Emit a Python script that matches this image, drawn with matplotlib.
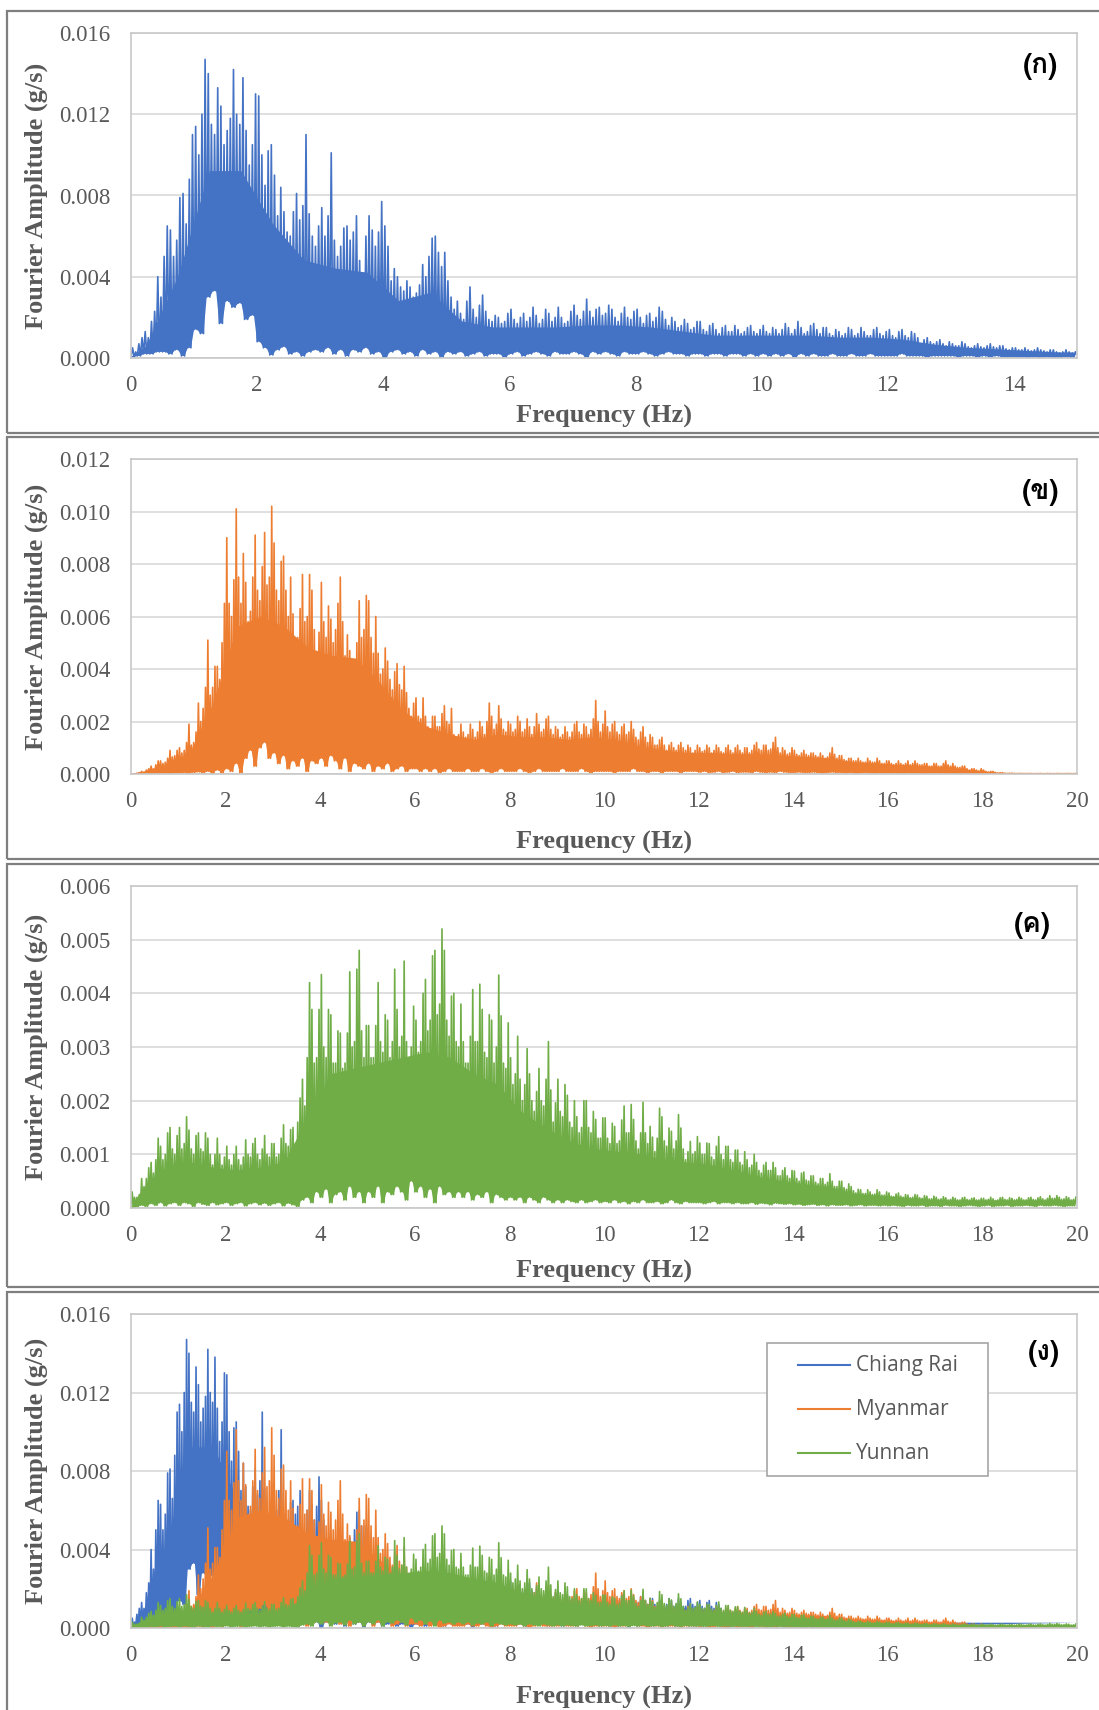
"""
Fourier amplitude spectra of the three records (Chiang Rai, Myanmar, Yunnan).
Output: out.png
"""
import numpy as np
import matplotlib
matplotlib.use("Agg")
import matplotlib.pyplot as plt
from matplotlib.patches import Rectangle
from matplotlib.lines import Line2D
from matplotlib.ticker import FormatStrFormatter
from matplotlib import font_manager
from matplotlib.ft2font import FT2Font

W, H = 1099, 1710

# amplitudes are typed in units of 1e-4 g/s
UNIT = 1e-4
FINE_DF = 0.1      # Hz per peak / second / dip value
COARSE_DF = 0.5    # Hz per body value

SERIES = ["Chiang Rai", "Myanmar", "Yunnan"]
COLORS = ["#4472C4", "#ED7D31", "#70AD47"]
PANEL_TAGS = ["(ก)", "(ข)", "(ค)", "(ง)"]

# highest spike in every 0.1 Hz bin
chiang_rai_peak = [
    5, 10, 13, 23, 40, 65, 63, 79, 81, 110,
    114, 147, 140, 133, 124, 118, 142, 138, 112, 130,
    129, 102, 105, 84, 72, 72, 81, 110, 71, 65,
    74, 101, 58, 64, 65, 70, 48, 70, 63, 77,
    65, 44, 40, 38, 35, 36, 46, 59, 60, 52,
    38, 28, 22, 35, 24, 31, 23, 21, 20, 22,
    24, 20, 22, 25, 21, 24, 22, 25, 20, 23,
    26, 23, 29, 24, 25, 26, 24, 22, 25, 23,
    24, 21, 22, 25, 23, 20, 18, 19, 17, 18,
    18, 16, 17, 15, 16, 16, 14, 15, 16, 14,
    16, 15, 14, 17, 15, 18, 15, 16, 17, 15,
    15, 14, 13, 15, 14, 15, 13, 14, 15, 13,
    14, 13, 14, 13, 12, 9, 10, 8, 9, 8,
    7, 8, 7, 6, 7, 6, 7, 6, 6, 5,
    5, 5, 4, 5, 4, 4, 4, 3, 4, 3,
]
myanmar_peak = [
    0, 0.5, 1, 2, 3, 5, 5, 6, 9, 9,
    10, 12, 19, 16, 27, 33, 51, 41, 41, 65,
    90, 74, 101, 84, 73, 75, 91, 79, 92, 102,
    88, 81, 83, 75, 61, 63, 76, 76, 70, 54,
    73, 64, 59, 65, 75, 53, 47, 50, 66, 68,
    66, 60, 46, 48, 43, 39, 42, 41, 31, 27,
    29, 29, 22, 22, 22, 23, 26, 25, 15, 19,
    16, 19, 17, 20, 18, 27, 22, 26, 21, 20,
    19, 22, 20, 21, 18, 23, 19, 21, 22, 18,
    17, 18, 16, 19, 20, 19, 18, 21, 28, 19,
    24, 19, 20, 18, 19, 20, 17, 16, 18, 15,
    14, 13, 14, 11, 12, 11, 12, 11, 10, 11,
    10, 11, 10, 11, 10, 10, 11, 10, 11, 10,
    10, 11, 12, 11, 11, 12, 14, 10, 9, 10,
    9, 8, 9, 8, 8, 8, 7, 8, 10, 7,
    7, 6, 6, 6, 5, 6, 5, 6, 5, 5,
    5, 4, 5, 4, 5, 5, 4, 4, 4, 4,
    4, 4, 5, 4, 3, 3, 3, 2, 2, 2,
    1.5, 1, 1, 0.5, 0.5, 0.3, 0.3, 0.2, 0.2, 0.2,
    0.2, 0.2, 0.2, 0.2, 0.2, 0.2, 0.2, 0.2, 0.2, 0.2,
]
yunnan_peak = [
    3, 2.5, 5.5, 7.5, 8.5, 13, 11.5, 14, 15, 13.5,
    15, 17, 14.5, 13.5, 14, 14, 13, 10, 13, 9.5,
    11.5, 10, 11.5, 9.5, 12.7, 12, 13, 11, 13.5, 12,
    12, 13, 15.5, 14.6, 15, 20.5, 24, 42, 37, 37,
    43.5, 37, 36, 33, 32.6, 32.6, 44, 44.5, 48, 34,
    34, 34, 42, 36, 35, 44.5, 37, 46, 31, 37.6,
    35, 40, 42.6, 47, 48, 52, 48, 39.5, 40, 38,
    31, 32, 40.7, 41.7, 37, 36, 35, 43.4, 35.8, 34.5,
    28, 32, 24, 29.7, 25, 21.7, 26, 24, 31, 19.6,
    24, 23, 21, 20, 17, 20, 20, 18, 16.5, 16.8,
    16.8, 15.8, 15.2, 16.4, 19, 19.3, 16.5, 14, 19.7, 15.2,
    13.2, 18.6, 17, 14.9, 14.3, 17.4, 14.9, 10.5, 12.4, 13.3,
    12.1, 12.1, 12, 11.5, 13.3, 11.5, 11.5, 10.8, 10.8, 10.5,
    9, 10, 8.5, 8, 8.5, 8.5, 7.5, 7, 7.5, 7,
    6.9, 6.5, 6.7, 6, 6, 5.5, 5.5, 6.4, 5, 5,
    5, 4.5, 4, 3.5, 3.4, 3.4, 3, 3.4, 3, 3,
    2.8, 2.6, 2.8, 2.5, 2.4, 2.5, 2.4, 2.3, 2.2, 2.2,
    2, 2.1, 1.9, 2, 1.8, 1.9, 2, 1.8, 1.9, 1.8,
    1.8, 2, 1.7, 1.9, 2, 1.9, 1.8, 2, 1.8, 1.9,
    2, 1.9, 2.1, 1.8, 2.3, 2.3, 2, 2.1, 1.9, 2,
]

# typical (second highest) spike in every 0.1 Hz bin
chiang_rai_second = [
    3, 7, 10, 18, 30, 50, 50, 58, 66, 88,
    100, 120, 115, 110, 105, 112, 120, 115, 95, 105,
    100, 85, 90, 70, 62, 60, 68, 75, 60, 55,
    60, 70, 50, 55, 58, 62, 42, 60, 55, 62,
    55, 38, 35, 33, 30, 32, 40, 50, 52, 45,
    30, 24, 19, 28, 20, 26, 19, 18, 17, 18,
    19, 17, 18, 20, 17, 19, 18, 20, 17, 18,
    21, 19, 23, 20, 21, 22, 20, 18, 20, 19,
    20, 17, 18, 20, 19, 16, 15, 16, 14, 15,
    14, 13, 14, 12, 13, 13, 12, 13, 13, 12,
    13, 12, 12, 14, 12, 14, 12, 13, 14, 12,
    12, 11, 11, 12, 11, 12, 11, 11, 12, 11,
    11, 10, 11, 10, 10, 7, 8, 7, 7, 6,
    6, 6, 5.5, 5, 5.5, 5, 5.5, 5, 4.5, 4,
    4, 4, 3.5, 4, 3.5, 3, 3, 2.5, 3, 2.5,
]
myanmar_second = [
    0, 0.3, 0.7, 1.5, 2, 3.5, 4, 4.5, 6.5, 7,
    8, 9, 11, 12, 20, 25, 30, 33, 36, 50,
    65, 60, 75, 65, 58, 62, 70, 66, 72, 75,
    70, 66, 70, 60, 50, 52, 58, 60, 55, 45,
    58, 52, 50, 55, 58, 45, 40, 42, 52, 55,
    52, 46, 38, 40, 36, 32, 34, 32, 25, 22,
    22, 21, 18, 17, 18, 18, 20, 19, 13, 15,
    14, 15, 14, 16, 15, 20, 17, 19, 17, 16,
    16, 17, 16, 17, 15, 18, 16, 17, 17, 15,
    14, 15, 14, 16, 16, 15, 15, 17, 20, 16,
    18, 16, 16, 15, 15, 16, 14, 13, 14, 12,
    11, 11, 11, 9, 10, 9, 10, 9, 8, 9,
    8.5, 9, 8, 9, 8.5, 8, 9, 8, 9, 8,
    8, 9, 9.5, 9, 9, 9.5, 10, 8, 7.5, 8,
    7.5, 7, 7.5, 7, 7, 6.5, 6, 6.5, 7.5, 6,
    5.5, 5, 5, 5, 4.5, 4.5, 4.5, 4.5, 4, 4,
    4, 3.5, 4, 3.5, 3.5, 4, 3.5, 3.5, 3, 3,
    3, 3, 3.5, 3, 2.5, 2.5, 2, 1.5, 1.5, 1.2,
    1, 0.8, 0.6, 0.4, 0.3, 0.2, 0.2, 0.15, 0.15, 0.15,
    0.15, 0.15, 0.15, 0.15, 0.15, 0.15, 0.15, 0.15, 0.15, 0.15,
]
yunnan_second = [
    2, 2, 4, 5.5, 6.5, 9, 9, 10, 11, 10,
    11, 12, 11, 10, 11, 10.5, 10, 8, 10, 8,
    9, 8, 9, 8, 10, 9.5, 10, 9, 10, 9.5,
    9.5, 10, 12, 11.5, 12, 16, 19, 28, 27, 28,
    30, 28, 27, 27, 26, 27, 30, 31, 33, 28,
    28, 28, 31, 29, 28, 31, 30, 32, 27, 30,
    29, 31, 33, 35, 36, 38, 35, 32, 31, 30,
    27, 27, 31, 31, 29, 28, 27, 30, 27, 26,
    23, 25, 20, 23, 20, 18, 20, 19, 22, 16,
    18, 17, 16, 15, 14, 15, 15, 14, 13, 13,
    13, 12, 12, 12.5, 14, 14, 12.5, 11, 14, 12,
    10.5, 13, 12.5, 11.5, 11, 12.5, 11, 9, 10, 10.5,
    10, 10, 9.5, 9, 10, 9, 9, 8.5, 8.5, 8,
    7.5, 8, 7, 6.5, 7, 7, 6, 6, 6, 5.5,
    5.5, 5, 5.2, 5, 4.8, 4.5, 4.4, 4.8, 4, 4,
    3.8, 3.5, 3.2, 2.8, 2.7, 2.7, 2.5, 2.6, 2.4, 2.4,
    2.2, 2.1, 2.2, 2, 1.9, 2, 1.9, 1.8, 1.7, 1.7,
    1.6, 1.7, 1.5, 1.6, 1.5, 1.5, 1.6, 1.5, 1.5, 1.5,
    1.5, 1.6, 1.4, 1.5, 1.6, 1.5, 1.5, 1.6, 1.5, 1.5,
    1.6, 1.5, 1.7, 1.5, 1.8, 1.8, 1.6, 1.7, 1.5, 1.6,
]

# lowest dip in every 0.1 Hz bin
chiang_rai_dip = [
    0.5, 1, 2, 2, 3, 3, 2, 4, 1, 5,
    14, 12, 30, 33, 17, 28, 25, 27, 19, 21,
    8, 5, 1.5, 4, 5.5, 2, 3, 1, 3, 4,
    3, 5, 2, 4, 1, 4, 3, 5, 2, 3,
    0, 3, 4, 2, 3, 1, 4, 2, 3, 0.5,
    3, 2, 3, 1, 2, 3, 1, 2, 2, 0.5,
    2, 3, 1, 2, 3, 2, 1, 3, 2, 2,
    3, 2, 0.5, 3, 2, 3, 2, 1, 3, 2,
    2, 3, 2, 1, 2, 3, 2, 2, 1, 2,
    2, 1, 2, 2, 1, 2, 2, 1, 2, 1,
    2, 1, 2, 1, 2, 0.5, 2, 1, 2, 1,
    1, 2, 1, 1, 2, 1, 1, 2, 1, 1,
    1, 1, 2, 1, 1, 1, 0.5, 1, 1, 1,
    1, 0.5, 1, 1, 0.5, 1, 0.5, 1, 0.5, 0.5,
    0.5, 0.5, 0.3, 0.5, 0.3, 0.5, 0.3, 0.3, 0.5, 0.3,
]
myanmar_dip = [
    0, 0.1, 0.1, 0.2, 0.2, 0.3, 0.2, 0.3, 0.3, 0.4,
    0.4, 0.5, 0.3, 0.6, 0.8, 0.5, 1, 0.3, 1.5, 0.5,
    2, 1, 4, 0.5, 6, 9, 3, 10, 12, 6,
    8, 4, 7, 2, 5, 3, 6, 1, 5, 4,
    6, 3, 7, 5, 2, 6, 1, 4, 3, 2,
    4, 1, 3, 2, 4, 1, 2, 3, 1, 2,
    2, 1, 2, 1, 2, 0.5, 1, 2, 1, 1,
    1, 2, 1, 1, 2, 1, 0.5, 1, 2, 1,
    1, 1, 2, 1, 0.5, 1, 2, 1, 1, 1,
    1, 2, 1, 1, 1, 2, 1, 0.5, 1, 1,
    1, 1, 0.5, 1, 1, 1, 2, 1, 1, 0.5,
    1, 1, 0.5, 1, 1, 1, 0.5, 1, 1, 1,
    0.7, 1, 0.5, 0.7, 1, 0.5, 0.7, 1, 0.5, 0.7,
    0.7, 0.5, 1, 0.7, 0.5, 0.7, 0.5, 1, 0.7, 0.5,
    0.5, 0.7, 0.5, 0.5, 0.7, 0.5, 0.3, 0.5, 0.7, 0.5,
    0.5, 0.4, 0.5, 0.3, 0.4, 0.5, 0.4, 0.3, 0.4, 0.4,
    0.3, 0.4, 0.3, 0.3, 0.4, 0.3, 0.3, 0.2, 0.3, 0.3,
    0.3, 0.2, 0.3, 0.2, 0.2, 0.2, 0.2, 0.1, 0.2, 0.1,
    0.1, 0.1, 0.1, 0.1, 0.1, 0.1, 0.1, 0.1, 0.1, 0.1,
    0.05, 0.05, 0.05, 0.05, 0.05, 0.05, 0.05, 0.05, 0.05, 0.05,
]
yunnan_dip = [
    0, 0.2, 0.5, 0.3, 0.8, 0.5, 1, 0.4, 0.8, 1,
    0.5, 1, 0.8, 0.3, 1, 0.7, 0.5, 1, 0.6, 0.8,
    1, 0.5, 0.8, 1, 0.4, 0.8, 1, 0.6, 0.9, 0.5,
    0.8, 1, 0.4, 0.9, 0.6, 0.3, 1.5, 2, 1, 3,
    2, 3.5, 1, 2.5, 3, 1.5, 4, 2, 3, 1,
    3, 2, 4, 1, 3, 2.5, 4, 3, 1.5, 5,
    3, 4, 2, 3.5, 1, 4, 2.5, 3, 2, 3,
    2, 3, 1.5, 2.5, 2, 3, 1, 2.5, 2, 1.5,
    2, 1.5, 2, 1, 2, 1.5, 1, 2, 1.5, 1,
    1.5, 1, 1.5, 1.2, 1, 1.5, 1, 1.2, 1.5, 1,
    1.2, 1, 1.5, 1, 1.2, 0.8, 1.2, 1, 1.5, 1,
    1, 1.2, 0.8, 1, 1.5, 1, 0.8, 1.2, 1, 1,
    1, 0.8, 1, 1.2, 0.8, 1, 1, 0.8, 1, 0.8,
    0.8, 1, 0.7, 0.9, 0.8, 0.6, 0.9, 0.8, 0.7, 0.8,
    0.6, 0.7, 0.5, 0.6, 0.7, 0.5, 0.6, 0.4, 0.6, 0.5,
    0.5, 0.6, 0.4, 0.5, 0.6, 0.4, 0.5, 0.5, 0.4, 0.5,
    0.4, 0.5, 0.4, 0.3, 0.5, 0.4, 0.4, 0.5, 0.3, 0.4,
    0.4, 0.3, 0.5, 0.4, 0.4, 0.3, 0.4, 0.5, 0.4, 0.3,
    0.4, 0.5, 0.3, 0.4, 0.4, 0.5, 0.3, 0.4, 0.4, 0.5,
    0.4, 0.3, 0.5, 0.4, 0.4, 0.5, 0.4, 0.3, 0.4, 0.4,
]

# top of the solid (dense) band, per 0.5 Hz
chiang_rai_body = [6, 40, 92, 92, 66, 48, 44, 42, 28, 32, 18, 15, 15, 15, 16,
                   16, 15, 13, 11, 11, 11, 11, 10, 10, 9, 6.5, 5, 4.2, 3.4, 2.7]
myanmar_body = [0.8, 3, 8, 27, 56, 60, 56, 48, 45, 44, 35, 24, 18, 15, 13, 15, 14, 14, 13, 14,
                13, 10.5, 9, 8, 8, 7.5, 7.5, 7, 6.5, 6, 4.5, 4, 3.4, 3, 2.4, 1.4, 0.4, 0.15, 0.15, 0.15]
yunnan_body = [3.5, 7.5, 8.5, 7.5, 7, 7.5, 8.5, 17, 25, 26, 27, 28, 29, 28, 25, 23, 18, 15, 12.5, 11,
               10.5, 10, 9, 8.5, 8, 7, 5.8, 5, 4.4, 4, 2.7, 2.3, 2, 1.6, 1.4, 1.4, 1.4, 1.4, 1.4, 1.4]

PEAKS = [chiang_rai_peak, myanmar_peak, yunnan_peak]
SECONDS = [chiang_rai_second, myanmar_second, yunnan_second]
DIPS = [chiang_rai_dip, myanmar_dip, yunnan_dip]
BODIES = [chiang_rai_body, myanmar_body, yunnan_body]

# panel layout in pixels: (plot top, plot bottom, frame top, frame bottom)
PANELS = [(33, 358, 11, 433), (459, 774, 437, 859), (886, 1208, 864, 1287), (1314, 1628, 1292, 1730)]
X_MAX = [15, 20, 20, 20]
Y_MAX = [0.016, 0.012, 0.006, 0.016]
Y_STEP = [0.004, 0.002, 0.001, 0.004]
XLABEL_Y = [416, 842, 1271, 1697]
TAG_POS = [(1040, 67), (1041, 493), (1032, 925), (1044, 1353)]
PANEL_SERIES = [[0], [1], [2], [0, 1, 2]]

TEXT_GRAY = "#595959"


def fx(px):
    return px / W


def fy(py):
    return 1 - py / H


def find_thai_font():
    for f in font_manager.fontManager.ttflist:
        try:
            cmap = FT2Font(f.fname).get_charmap()
        except Exception:
            continue
        if all(ord(c) in cmap for c in "กขคง"):
            return f.name
    return "DejaVu Sans"


def draw_series(ax, idx, x_max):
    color = COLORS[idx]
    peak = np.asarray(PEAKS[idx], float) * UNIT
    second = np.asarray(SECONDS[idx], float) * UNIT
    dip = np.asarray(DIPS[idx], float) * UNIT
    body = np.asarray(BODIES[idx], float) * UNIT

    n = len(peak)
    i = np.arange(n)
    base = i * FINE_DF
    # order of the two spikes swapped on odd bins so the comb is not regular
    odd = i % 2 == 1
    first = np.where(odd, second, peak)
    last = np.where(odd, peak, second)

    x = np.empty(4 * n)
    y = np.empty(4 * n)
    x[0::4], y[0::4] = base, dip
    x[1::4], y[1::4] = base + FINE_DF * 0.25, first
    x[2::4], y[2::4] = base + FINE_DF * 0.5, dip
    x[3::4], y[3::4] = base + FINE_DF * 0.75, last

    # solid core: from the dips up to the dense band
    xc = (np.arange(len(body)) + 0.5) * COARSE_DF
    top_x = np.r_[xc, x_max]
    top_y = np.r_[body, body[-1]]
    bot_x = x[0::2][::-1]
    bot_y = y[0::2][::-1]
    ax.fill(np.r_[top_x, bot_x], np.r_[top_y, bot_y], color=color, lw=0, zorder=2)

    ax.plot(x, y, color=color, lw=1.2, zorder=2)


def main():
    plt.rcParams["font.family"] = "Liberation Serif"
    thai_font = find_thai_font()

    fig = plt.figure(figsize=(W / 100, H / 100), dpi=100)
    fig.patch.set_facecolor("white")

    for p, (top, bottom, ftop, fbottom) in enumerate(PANELS):
        # outer frame of each sub-figure
        fig.add_artist(Rectangle((fx(7), fy(fbottom)), (1130 - 7) / W, (fbottom - ftop) / H,
                                 transform=fig.transFigure, fill=False,
                                 edgecolor="#7f7f7f", lw=1.6, zorder=0))

        ax = fig.add_axes([fx(131), fy(bottom), (1077 - 131) / W, (bottom - top) / H])
        for idx in PANEL_SERIES[p]:
            draw_series(ax, idx, X_MAX[p])

        ax.set_xlim(0, X_MAX[p])
        ax.set_ylim(0, Y_MAX[p])
        ax.set_xticks(np.arange(0, X_MAX[p] + 0.01, 2))
        ax.set_yticks(np.arange(0, Y_MAX[p] + Y_STEP[p] / 2, Y_STEP[p]))
        ax.yaxis.set_major_formatter(FormatStrFormatter("%.3f"))
        ax.grid(axis="y", color="#d9d9d9", lw=1.2)
        ax.set_axisbelow(True)
        for s in ax.spines.values():
            s.set_color("#c8c8c8")
            s.set_linewidth(1.2)
        ax.tick_params(length=0, labelsize=16.5, labelcolor=TEXT_GRAY)
        ax.tick_params(axis="x", pad=12)
        ax.tick_params(axis="y", pad=15)

        fig.text(fx(604), fy(XLABEL_Y[p]), "Frequency (Hz)", ha="center", va="center",
                 fontsize=19, fontweight="bold", color=TEXT_GRAY)
        fig.text(fx(36), fy((top + bottom) / 2), "Fourier Amplitude (g/s)", rotation=90,
                 ha="center", va="center", fontsize=19, fontweight="bold", color=TEXT_GRAY)
        tx, ty = TAG_POS[p]
        fig.text(fx(tx), fy(ty), PANEL_TAGS[p], ha="center", va="center", fontsize=20,
                 fontweight="bold", family=[thai_font, "DejaVu Sans"], color="black")

    # legend of the combined panel
    fig.add_artist(Rectangle((fx(767), fy(1476)), (988 - 767) / W, (1476 - 1343) / H,
                             transform=fig.transFigure, facecolor="white",
                             edgecolor="#a6a6a6", lw=1.2, zorder=5))
    for i, (name, color) in enumerate(zip(SERIES, COLORS)):
        row_y = 1365 + 44 * i
        fig.add_artist(Line2D([fx(798), fx(850)], [fy(row_y), fy(row_y)],
                              transform=fig.transFigure, color=color, lw=1.5, zorder=6))
        fig.text(fx(856), fy(row_y), name, ha="left", va="center", fontsize=15,
                 family="Open Sans", color=TEXT_GRAY, zorder=6)

    fig.savefig("out.png", dpi=100, facecolor="white")


if __name__ == "__main__":
    main()
